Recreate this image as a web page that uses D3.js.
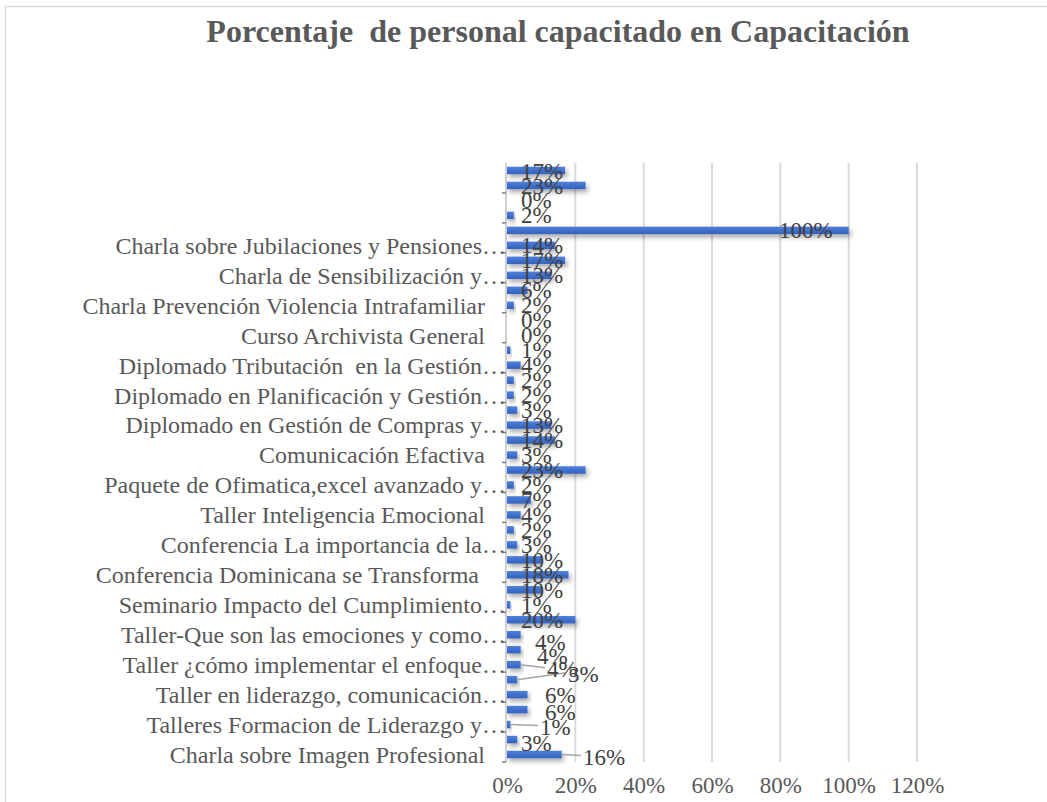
<!DOCTYPE html>
<html>
<head>
<meta charset="utf-8">
<script src="https://cdn.jsdelivr.net/npm/d3@7"></script>
<style>
  body { margin: 0; background: #fff; }
  text { font-family: "Liberation Serif", "Times New Roman", serif; }
</style>
</head>
<body>
<div id="chart"></div>
<script>
// categories top to bottom (blank = no label shown in the original)
let categories = [
    "", "", "", "", "",
    "Charla sobre Jubilaciones y Pensiones…", "",
    "Charla de Sensibilización y…", "",
    "Charla Prevención Violencia Intrafamiliar", "",
    "Curso Archivista General", "",
    "Diplomado Tributación  en la Gestión…", "",
    "Diplomado en Planificación y Gestión…", "",
    "Diplomado en Gestión de Compras y…", "",
    "Comunicación Efactiva", "",
    "Paquete de Ofimatica,excel avanzado y…", "",
    "Taller Inteligencia Emocional", "",
    "Conferencia La importancia de la…", "",
    "Conferencia Dominicana se Transforma\u00a0", "",
    "Seminario Impacto del Cumplimiento…", "",
    "Taller-Que son las emociones y como…", "",
    "Taller ¿cómo implementar el enfoque…", "",
    "Taller en liderazgo, comunicación…", "",
    "Talleres Formacion de Liderazgo y…", "",
    "Charla sobre Imagen Profesional"
];

// percent values, same order
let values = [17, 23, 0, 2, 100, 14, 17, 13, 6, 2,
              0, 0, 1, 4, 2, 2, 3, 13, 14, 3,
              23, 2, 7, 4, 2, 3, 10, 18, 10, 1,
              20, 4, 4, 4, 3, 6, 6, 1, 3, 16];

let xTicks = [0, 20, 40, 60, 80, 100, 120];

// labels that were dragged around in the original, [dx, dy, leader line]
let labelNudge = {
    31: [14, 7, false],
    32: [16, 6, false],
    33: [26, 4, true],
    34: [47, -6, true],
    35: [24, 0, false],
    36: [24, 2, false],
    37: [19, 2, true],
    38: [0, 3, false],
    39: [62, 2, true]
};

let width = 1047, height = 802;
let margin = { top: 163, left: 507, right: 130, bottom: 40 };
let grey = "#595959";

let svg = d3.select("#chart").append("svg")
    .attr("width", width)
    .attr("height", height);

// bar look: gradient + soft shadow
let defs = svg.append("defs");
let grad = defs.append("linearGradient")
    .attr("id", "barGrad")
    .attr("x1", 0).attr("y1", 0).attr("x2", 0).attr("y2", 1);
grad.append("stop").attr("offset", "0%").attr("stop-color", "#4f80db");
grad.append("stop").attr("offset", "100%").attr("stop-color", "#3262bd");

let shadow = defs.append("filter")
    .attr("id", "shadow")
    .attr("x", "-10%").attr("y", "-50%")
    .attr("width", "130%").attr("height", "250%");
shadow.append("feDropShadow")
    .attr("dx", 2).attr("dy", 3)
    .attr("stdDeviation", 2.5)
    .attr("flood-color", "#000")
    .attr("flood-opacity", 0.35);

// chart frame (cut off on the right and bottom)
svg.append("path")
    .attr("d", "M5.5," + height + "V6.5H" + width)
    .attr("fill", "none")
    .attr("stroke", "#d9d9d9")
    .attr("stroke-width", 1.5);

svg.append("text")
    .attr("x", 558)
    .attr("y", 42)
    .attr("text-anchor", "middle")
    .style("font-size", "32px")
    .style("font-weight", "bold")
    .style("fill", grey)
    .text("Porcentaje  de personal capacitado en Capacitación")
    .style("white-space", "pre");

let x = d3.scaleLinear()
    .domain([0, 120])
    .range([margin.left, 917]);

let y = d3.scaleBand()
    .domain(d3.range(values.length))
    .range([margin.top, 762])
    .paddingInner(0.5)
    .paddingOuter(0.25);

// gridlines
svg.append("g")
    .selectAll("line")
    .data(xTicks.slice(1))
    .enter()
    .append("line")
    .attr("x1", d => x(d)).attr("x2", d => x(d))
    .attr("y1", margin.top).attr("y2", 762)
    .attr("stroke", "#d9d9d9")
    .attr("stroke-width", 2);

// x axis labels
let xAxis = d3.axisBottom(x)
    .tickValues(xTicks)
    .tickSize(0)
    .tickFormat(d => d + "%");

svg.append("g")
    .attr("transform", "translate(0," + 768 + ")")
    .call(xAxis)
    .call(g => g.select(".domain").remove())
    .selectAll("text")
    .style("font-family", "'Liberation Serif', serif")
    .style("font-size", "23px")
    .style("fill", grey)
    .attr("dy", "0.95em");

// bars
svg.append("g")
    .selectAll("rect")
    .data(values)
    .enter()
    .append("rect")
    .attr("x", x(0))
    .attr("y", (d, i) => y(i))
    .attr("width", d => x(d) - x(0))
    .attr("height", y.bandwidth())
    .attr("fill", "url(#barGrad)")
    .attr("filter", "url(#shadow)");

// y axis line + ticks every second category
svg.append("line")
    .attr("x1", x(0) - 1).attr("x2", x(0) - 1)
    .attr("y1", margin.top).attr("y2", 762)
    .attr("stroke", "#bfbfbf")
    .attr("stroke-width", 1.5);

svg.append("g")
    .selectAll("line")
    .data(d3.range(1, values.length, 2))
    .enter()
    .append("line")
    .attr("x1", x(0) - 5).attr("x2", x(0) - 1)
    .attr("y1", i => y(i) + y.step() * 0.75)
    .attr("y2", i => y(i) + y.step() * 0.75)
    .attr("stroke", "#7f7f7f")
    .attr("stroke-width", 1.5);

// category labels (truncated ones run right up to the axis)
svg.append("g")
    .selectAll("text")
    .data(categories)
    .enter()
    .append("text")
    .attr("x", d => d.endsWith("…") ? x(0) - 1 : x(0) - 22)
    .attr("y", (d, i) => y(i) + y.bandwidth() / 2)
    .attr("dy", "0.35em")
    .attr("text-anchor", "end")
    .style("font-size", "24px")
    .style("fill", grey)
    .style("white-space", "pre")
    .text(d => d);

// leader lines
svg.append("g")
    .selectAll("line")
    .data(Object.keys(labelNudge).filter(k => labelNudge[k][2]).map(Number))
    .enter()
    .append("line")
    .attr("x1", i => x(values[i]))
    .attr("y1", i => y(i) + y.bandwidth() / 2)
    .attr("x2", i => x(0) + 12 + labelNudge[i][0])
    .attr("y2", i => y(i) + y.bandwidth() / 2 + labelNudge[i][1] - 1)
    .attr("stroke", "#a6a6a6")
    .attr("stroke-width", 1.5);

// data labels
svg.append("g")
    .selectAll("text")
    .data(values)
    .enter()
    .append("text")
    .attr("x", (d, i) => {
        if (d >= 100) return x(d) - 16;
        let n = labelNudge[i];
        return x(0) + 14 + (n ? n[0] : 0);
    })
    .attr("y", (d, i) => {
        let n = labelNudge[i];
        return y(i) + y.bandwidth() / 2 + (n ? n[1] : 0);
    })
    .attr("dy", "0.35em")
    .attr("text-anchor", d => d >= 100 ? "end" : "start")
    .style("font-size", "23px")
    .style("fill", "#404040")
    .text(d => d + "%");
</script>
</body>
</html>
